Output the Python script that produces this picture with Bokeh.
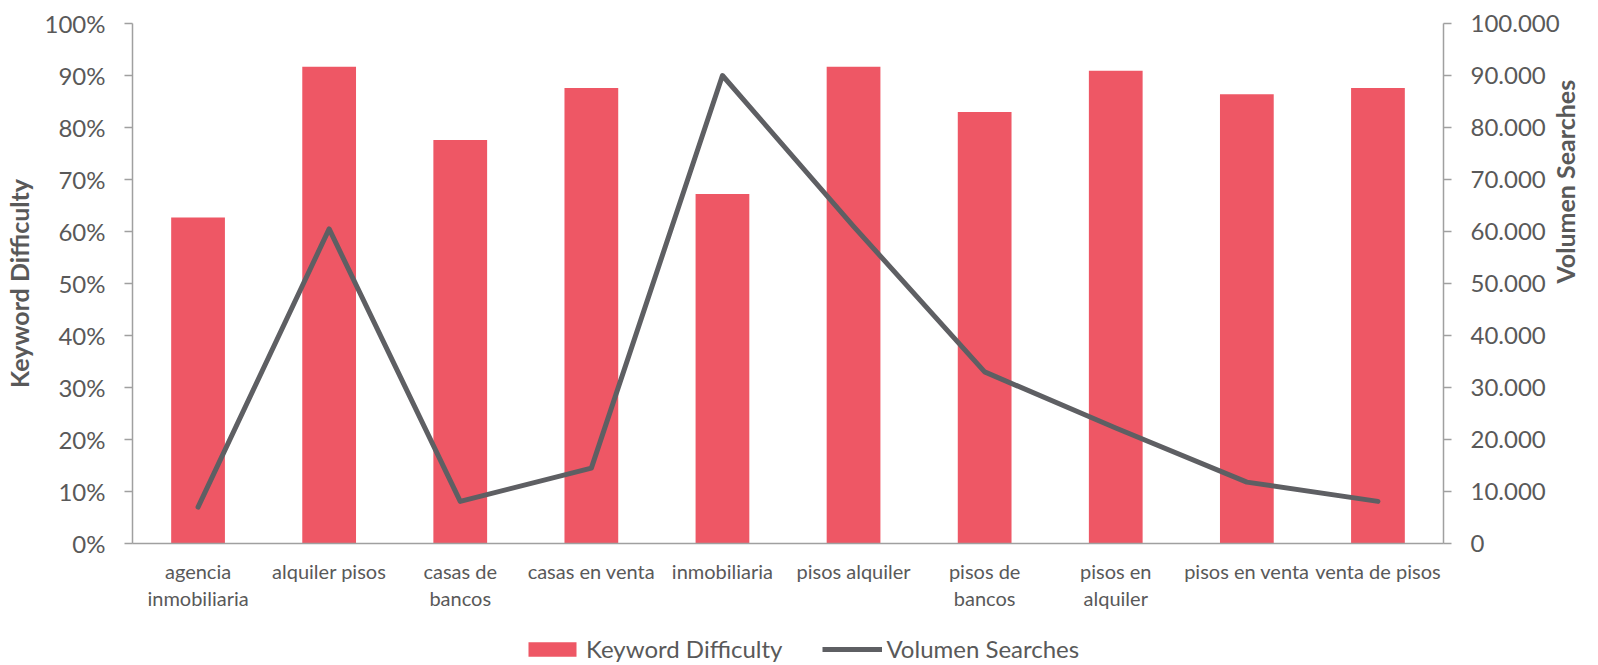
from bokeh.plotting import figure
from bokeh.models import (Range1d, LinearAxis, FixedTicker,
                          NumeralTickFormatter, CustomJSTickFormatter, Legend, LegendItem)
from bokeh.layouts import column
from bokeh.embed import file_html
from bokeh.resources import INLINE
import math

categories = ["agencia inmobiliaria", "alquiler pisos", "casas de bancos", "casas en venta",
              "inmobiliaria", "pisos alquiler", "pisos de bancos", "pisos en alquiler",
              "pisos en venta", "venta de pisos"]
label_line1 = ["agencia", "alquiler pisos", "casas de", "casas en venta", "inmobiliaria",
               "pisos alquiler", "pisos de", "pisos en", "pisos en venta", "venta de pisos"]
label_line2 = ["inmobiliaria", "", "bancos", "", "", "", "bancos", "alquiler", "", ""]
keyword_difficulty = [0.627, 0.917, 0.776, 0.876, 0.672, 0.917, 0.830, 0.909, 0.864, 0.876]
volumen_searches = [7000, 60500, 8100, 14500, 90000, 61000, 33000, 22200, 11800, 8100]
left_ticks = [0, 0.1, 0.2, 0.3, 0.4, 0.5, 0.6, 0.7, 0.8, 0.9, 1.0]
right_ticks = [0, 10000, 20000, 30000, 40000, 50000, 60000, 70000, 80000, 90000, 100000]

BAR = "#EE5765"
LINE = "#5E5F63"
TXT = "#595959"
AX = "#A0A0A0"
FONT = "Lato"

xpos = list(range(len(categories)))

W = 1598
p = figure(width=W, height=620, x_range=Range1d(-0.5, len(categories) - 0.5),
           y_range=Range1d(0, 1), output_backend="svg", toolbar_location=None,
           min_border_left=131, min_border_right=155, min_border_top=23, min_border_bottom=77)
p.extra_y_ranges = {"vol": Range1d(0, 100000)}
p.outline_line_color = None
p.xgrid.grid_line_color = None
p.ygrid.grid_line_color = None

bars = p.vbar(x=xpos, top=keyword_difficulty, width=0.41, fill_color=BAR, line_color=None)
ln = p.line(x=xpos, y=volumen_searches, y_range_name="vol", line_color=LINE, line_width=5,
            line_join="round", line_cap="round")

ya = p.yaxis[0]
ya.ticker = FixedTicker(ticks=left_ticks)
ya.formatter = NumeralTickFormatter(format="0%")
ya.axis_label = "Keyword Difficulty"

right = LinearAxis(y_range_name="vol", ticker=FixedTicker(ticks=right_ticks),
                   formatter=CustomJSTickFormatter(code="return tick == 0 ? '0' : (tick/1000).toFixed(0) + '.000';"),
                   axis_label="Volumen Searches")
p.add_layout(right, "right")

for a in (ya, right):
    a.axis_line_color = AX
    a.axis_line_width = 1.5
    a.major_tick_line_color = AX
    a.major_tick_line_width = 1.5
    a.major_tick_out = 8
    a.major_tick_in = 0
    a.minor_tick_line_color = None
    a.major_label_standoff = 19
    a.major_label_text_font = FONT
    a.major_label_text_font_size = "24px"
    a.major_label_text_color = TXT
    a.axis_label_text_font = FONT
    a.axis_label_text_font_style = "bold"
    a.axis_label_text_font_size = "25px"
    a.axis_label_text_color = TXT
right.axis_label_orientation = math.pi / 2
right.axis_label_standoff = 2
ya.axis_label_standoff = 8

xa = p.xaxis[0]
xa.ticker = FixedTicker(ticks=xpos)
xa.axis_line_color = AX
xa.axis_line_width = 1.5
xa.major_tick_line_color = None
xa.minor_tick_line_color = None
xa.major_label_standoff = 9
xa.major_label_overrides = dict(zip(xpos, label_line1))

xa2 = LinearAxis(ticker=FixedTicker(ticks=xpos), axis_line_color=None, major_tick_line_color=None,
                 minor_tick_line_color=None, major_label_standoff=-6)
xa2.major_label_overrides = dict(zip(xpos, label_line2))
p.add_layout(xa2, "below")
for a in (xa, xa2):
    a.major_label_text_font = FONT
    a.major_label_text_font_size = "20px"
    a.major_label_text_color = TXT

# legend strip below the chart
lg = figure(width=W, height=45, x_range=Range1d(0, 1), y_range=Range1d(0, 1),
            x_axis_type=None, y_axis_type=None,
            output_backend="svg", toolbar_location=None, min_border=0)
lg.grid.visible = False
lg.outline_line_color = None
lb = lg.vbar(x=[0.5], top=[0], bottom=[0], width=0.01, fill_color=BAR, line_color=None)
ll = lg.line(x=[0.4, 0.6], y=[-10, -10], line_color=LINE, line_width=5)
legend = Legend(items=[LegendItem(label="Keyword Difficulty", renderers=[lb]),
                       LegendItem(label="Volumen Searches", renderers=[ll])],
                location=(390, 2), orientation="horizontal",
                glyph_width=60, glyph_height=18, label_height=18, label_standoff=4, spacing=40,
                padding=0, margin=0, border_line_alpha=0, background_fill_alpha=0,
                label_text_font=FONT, label_text_font_size="24px", label_text_color=TXT)
lg.add_layout(legend, "center")

layout = column(p, lg, spacing=0)
open("out.html", "w").write(file_html(layout, INLINE))
